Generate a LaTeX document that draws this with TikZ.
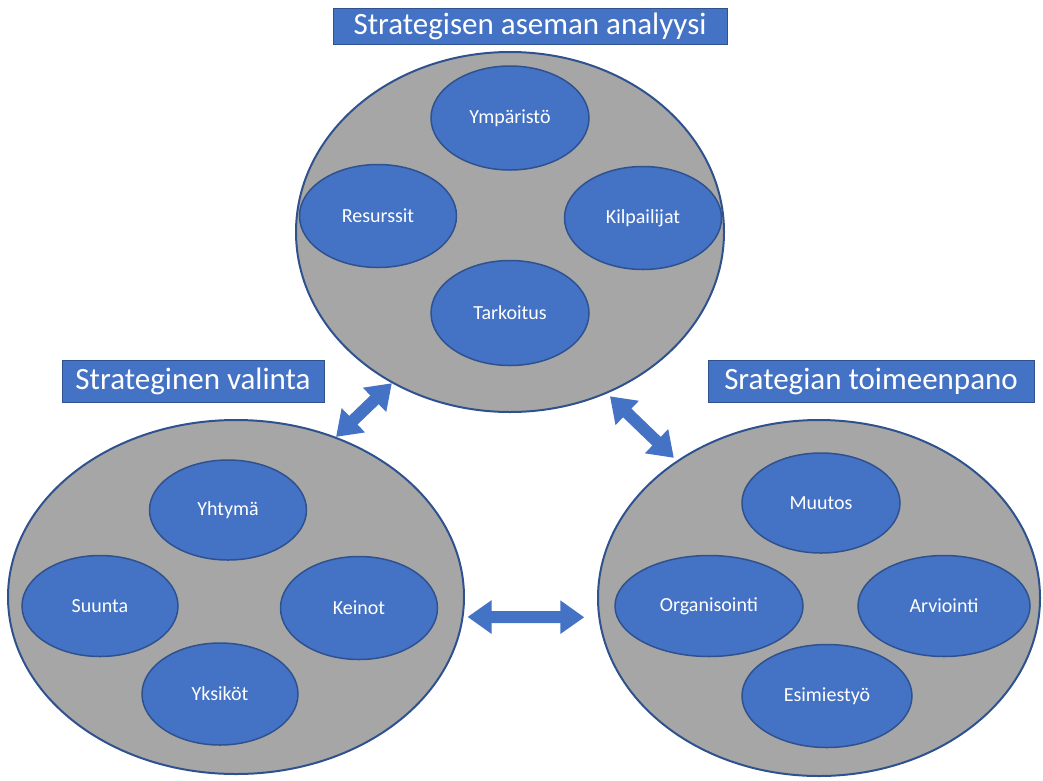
\documentclass[tikz,border=0pt]{standalone}
\usepackage{fontspec}
\setmainfont{Carlito}
\usetikzlibrary{arrows.meta,shapes.geometric}
\definecolor{officeblue}{HTML}{4472C4}
\definecolor{officeedge}{HTML}{2F528F}
\definecolor{officegray}{HTML}{A6A6A6}

\begin{document}
\begin{tikzpicture}[x=1pt,y=-1pt, every node/.style={align=center},
  bigell/.style={ellipse,draw=officeedge,line width=2pt,fill=officegray,inner sep=0pt},
  smallell/.style={ellipse,draw=officeedge,line width=1.5pt,fill=officeblue,inner sep=0pt,text=white,font=\fontsize{20}{24}\selectfont},
  titlebox/.style={draw=officeedge,line width=0.8pt,fill=officeblue,text=white,inner sep=0pt,font=\fontsize{31}{36}\selectfont},
  dblarrow/.style={draw=officeblue,line width=12pt,{Triangle[width=32pt,length=24pt]}-{Triangle[width=32pt,length=24pt]}}]
\useasboundingbox (0,0) rectangle (1043,780);
% the three groups
\node[bigell,minimum width=428pt,minimum height=360pt] (analyysi) at (510,232) {};
\node[bigell,minimum width=456pt,minimum height=354pt] (valinta) at (236,597) {};
\node[bigell,minimum width=442pt,minimum height=356pt] (toimeenpano) at (819,598) {};
% top
\node[smallell,minimum width=158pt,minimum height=104pt] (ymparisto) at (510,118) {Ympäristö};
\node[smallell,minimum width=157pt,minimum height=103pt] (resurssit) at (378,216) {Resurssit};
\node[smallell,minimum width=157pt,minimum height=103pt] (kilpailijat) at (643,218) {Kilpailijat};
\node[smallell,minimum width=158pt,minimum height=105pt] (tarkoitus) at (510,313) {Tarkoitus};
% left
\node[smallell,minimum width=157pt,minimum height=100pt] (yhtyma) at (228,510) {Yhtymä};
\node[smallell,minimum width=156pt,minimum height=101pt] (suunta) at (100,606) {Suunta};
\node[smallell,minimum width=157pt,minimum height=103pt] (keinot) at (359,608) {Keinot};
\node[smallell,minimum width=156pt,minimum height=102pt] (yksikot) at (220,694) {Yksiköt};
% right
\node[smallell,minimum width=158pt,minimum height=100pt] (muutos) at (821,503) {Muutos};
\node[smallell,minimum width=188pt,minimum height=101pt] (organisointi) at (709,606) {Organisointi};
\node[smallell,minimum width=172pt,minimum height=101pt] (arviointi) at (944,606) {Arviointi};
\node[smallell,minimum width=170pt,minimum height=103pt] (esimiestyo) at (827,696) {Esimiestyö};
% headings
\node[titlebox,minimum width=394pt,minimum height=36pt] (t1) at (530,26) {Strategisen aseman analyysi};
\node[titlebox,minimum width=262pt,minimum height=42pt] (t2) at (193,381) {Strateginen valinta};
\node[titlebox,minimum width=326pt,minimum height=42pt] (t3) at (871,381) {Srategian toimeenpano};
% arrows
\draw[dblarrow] (valinta.58) -- (analyysi.232);
\draw[dblarrow,shorten <=4pt,shorten >=4pt] (analyysi.301) -- (toimeenpano.136);
\draw[dblarrow,shorten <=4pt,shorten >=14pt] (valinta.-5.5) -- (toimeenpano.185.5);
\end{tikzpicture}
\end{document}
